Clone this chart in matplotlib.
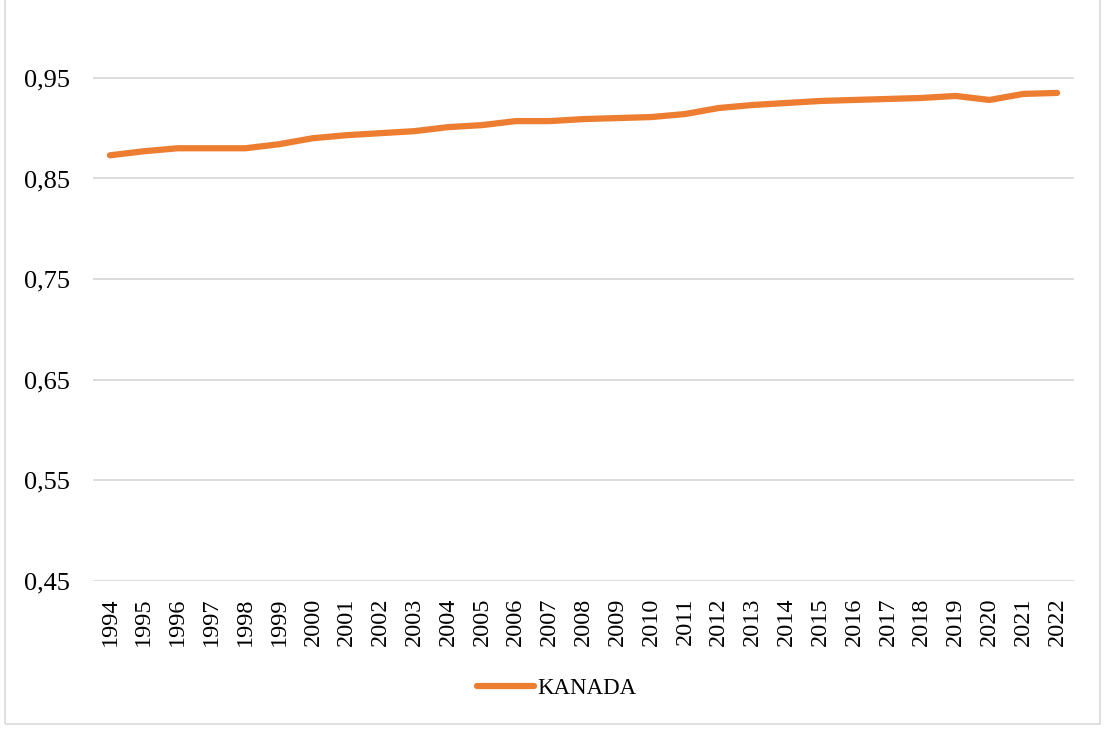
import matplotlib.pyplot as plt
from matplotlib.patches import Rectangle
from matplotlib.ticker import FixedLocator, FuncFormatter

years = list(range(1994, 2023))
kanada = [0.873, 0.877, 0.880, 0.880, 0.880, 0.884, 0.890, 0.893, 0.895, 0.897,
          0.901, 0.903, 0.907, 0.907, 0.909, 0.910, 0.911, 0.914, 0.920, 0.923,
          0.925, 0.927, 0.928, 0.929, 0.930, 0.932, 0.928, 0.934, 0.935]
y_ticks = [0.45, 0.55, 0.65, 0.75, 0.85, 0.95]

plt.rcParams['font.family'] = ['Liberation Serif', 'DejaVu Serif']

W, H = 1107, 729
fig = plt.figure(figsize=(W / 100, H / 100), dpi=100)
ax = fig.add_axes([93 / W, 1 - 581 / H, (1074 - 93) / W, (581 - 27.5) / H])

x = list(range(len(years)))
ax.plot(x, kanada, color='#ED7D31', linewidth=4.5, solid_capstyle='round',
        solid_joinstyle='round', label='KANADA', zorder=3)

ax.set_xlim(-0.5, len(years) - 0.5)
ax.set_ylim(0.45, 1.0)
ax.yaxis.set_major_locator(FixedLocator(y_ticks))
ax.yaxis.set_major_formatter(FuncFormatter(lambda v, p: f'{v:.2f}'.replace('.', ',')))
ax.set_xticks(x)
ax.set_xticklabels([str(y) for y in years], rotation=90)
ax.tick_params(axis='both', length=0, colors='black')
ax.tick_params(axis='x', labelsize=17.5, pad=12)
ax.tick_params(axis='y', labelsize=19, pad=16.5)
ax.grid(axis='y', color='#D9D9D9', linewidth=1.3)
for s in ax.spines.values():
    s.set_visible(False)

leg = fig.legend(loc='center', bbox_to_anchor=(557 / W, 1 - 688 / H), frameon=False,
                 fontsize=16.5, handlelength=2.45, handletextpad=0.17,
                 borderpad=0, borderaxespad=0)

fig.patches.append(Rectangle((5 / W, 5 / H), (1100 - 5) / W, 1.0,
                             transform=fig.transFigure, fill=False,
                             edgecolor='#D9D9D9', linewidth=1.2))

fig.savefig('out.png', dpi=100)
